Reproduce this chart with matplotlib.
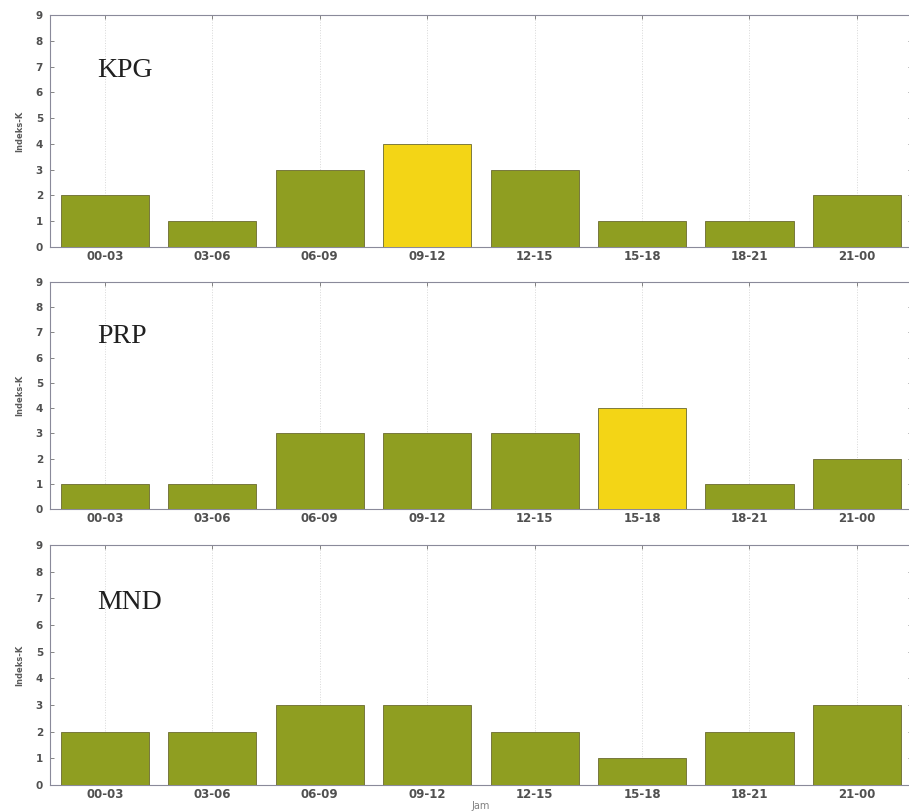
import matplotlib
matplotlib.use("Agg")
import matplotlib.pyplot as plt
import numpy as np

categories = ["00-03", "03-06", "06-09", "09-12", "12-15", "15-18", "18-21", "21-00"]
stations = ["KPG", "PRP", "MND"]
kpg_values = [2, 1, 3, 4, 3, 1, 1, 2]
prp_values = [1, 1, 3, 3, 3, 4, 1, 2]
mnd_values = [2, 2, 3, 3, 2, 1, 2, 3]
highlight_threshold = 4

GREEN = "#8f9e21"
YELLOW = "#f3d516"

fig = plt.figure(figsize=(9.09, 8.11), dpi=100)

# axes rectangles [left, bottom, width, height] in figure fraction
rects = [
    [0.055, 0.6955, 0.948, 0.286],
    [0.055, 0.3724, 0.948, 0.280],
    [0.055, 0.0320, 0.948, 0.296],
]

x = np.arange(len(categories))
for i, (name, vals) in enumerate(zip(stations, [kpg_values, prp_values, mnd_values])):
    ax = fig.add_axes(rects[i])
    colors = [YELLOW if v >= highlight_threshold else GREEN for v in vals]
    ax.bar(x, vals, width=0.82, color=colors, edgecolor="#6a6a30", linewidth=0.6, zorder=3)
    ax.set_xlim(-0.51, 7.51)
    ax.set_ylim(0, 9)
    ax.set_yticks(range(0, 10))
    ax.set_xticks(x)
    ax.set_xticklabels(categories)
    for lab in ax.get_xticklabels():
        lab.set_fontsize(8.5)
        lab.set_fontweight("bold")
        lab.set_color("#505050")
    for lab in ax.get_yticklabels():
        lab.set_fontsize(7.5)
        lab.set_fontweight("bold")
        lab.set_color("#505050")
    ax.tick_params(axis="both", direction="in", top=True, right=True, length=3,
                   width=0.6, color="#707070", pad=2)
    ax.tick_params(axis="y", pad=5)
    ax.grid(axis="x", linestyle=":", color="#d8d8d8", linewidth=0.7, zorder=0)
    for s in ax.spines.values():
        s.set_color("#8a8a9a")
        s.set_linewidth(0.8)
    ax.set_ylabel("Indeks-K", fontsize=6, fontweight="bold", color="#5a5a5a", labelpad=8)
    ax.text(0.055, 0.76, name, transform=ax.transAxes, fontsize=20,
            family="Liberation Serif", color="#202020", va="center", ha="left")
    if i == 2:
        ax.set_xlabel("Jam", fontsize=7, color="#808080", labelpad=0)

fig.savefig("out.png", dpi=100)
